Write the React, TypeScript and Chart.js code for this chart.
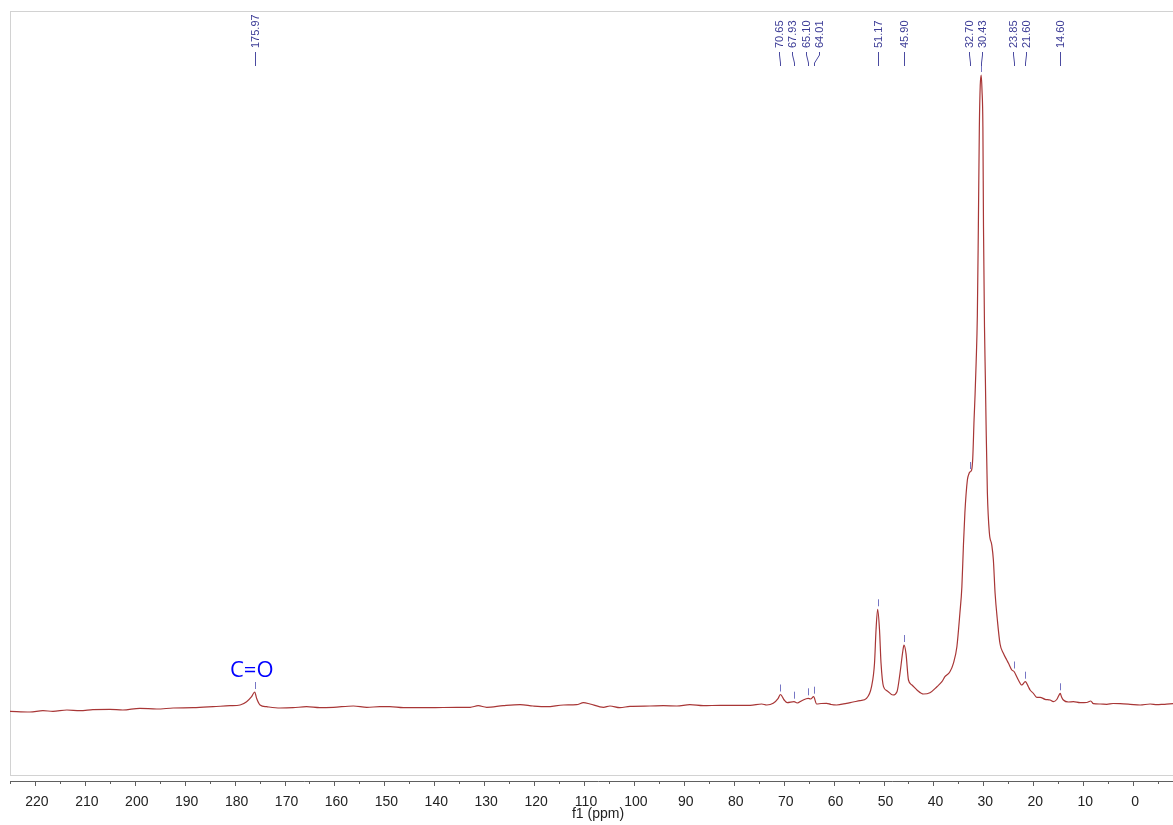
import React, { useEffect, useRef } from "react";
import { Chart, registerables } from "chart.js";

Chart.register(...registerables);

// ---- spectrum (chemical shift in ppm, intensity in arbitrary units) ----
const shiftPpm = [
  225.0, 221.0, 218.4, 216.4, 213.6, 211.0, 208.4, 205.0, 202.4, 199.0,
  195.6, 192.3, 188.3, 184.3, 180.9, 178.9, 177.6, 176.6, 175.97, 175.6,
  174.9, 173.6, 170.9, 168.3, 165.6, 162.9, 160.2, 156.2, 153.5, 150.9,
  148.9, 146.2, 140.9, 135.5, 132.8, 131.2, 129.5, 126.2, 122.8, 120.2,
  117.5, 114.1, 111.5, 110.1, 108.8, 106.1, 104.8, 102.8, 100.8, 96.8,
  94.1, 91.4, 88.8, 86.1, 82.7, 79.4, 76.7, 74.4, 73.4, 72.1,
  71.1, 70.65, 69.9, 69.3, 67.93, 67.3, 66.3, 65.10, 64.6, 64.01,
  63.4, 62.5, 61.4, 60.5, 59.4, 57.4, 56.1, 54.7, 53.4, 52.4,
  51.8, 51.5, 51.17, 50.8, 50.5, 50.0, 49.3, 48.1, 47.3, 46.7,
  46.1, 45.90, 45.5, 45.0, 44.3, 43.3, 42.0, 40.7, 39.3, 38.3,
  37.7, 36.7, 36.0, 35.3, 34.7, 34.3, 34.0, 33.7, 33.2, 32.90,
  32.70, 32.35, 32.12, 31.86, 31.66, 31.46, 31.20, 31.00, 30.80, 30.62,
  30.43, 30.27, 30.09, 29.97, 29.77, 29.59, 29.45, 29.19, 28.79, 28.31,
  27.99, 27.65, 27.19, 26.65, 25.99, 25.31, 24.99, 24.30, 23.85, 23.31,
  22.98, 22.30, 21.60, 20.98, 20.64, 19.98, 19.29, 18.63, 17.63, 16.63,
  15.97, 15.29, 14.93, 14.60, 14.33, 13.97, 12.96, 11.96, 10.62, 9.28,
  8.48, 7.95, 6.61, 5.27, 4.01, 2.60, 0.60, -1.40, -3.41, -4.81,
  -6.07, -8.0, -10.6,
];
const intensity = [
  -1.3, -2.0, -0.7, -1.3, 0, -0.7, 0.3, 0.7, 0, 1.7,
  1.0, 2.0, 2.3, 3.3, 4.3, 5.0, 8.3, 13.3, 18.0, 11.7,
  5.0, 3.3, 2.0, 2.3, 3.3, 2.3, 2.7, 4.0, 2.7, 3.3,
  3.3, 2.3, 2.3, 2.7, 2.7, 4.3, 2.7, 4.3, 5.3, 4.0,
  3.3, 5.0, 5.3, 7.3, 6.0, 2.7, 4.0, 2.3, 3.7, 4.0,
  4.3, 4.0, 5.3, 4.3, 4.7, 4.7, 4.7, 6.0, 5.0, 6.7,
  11.7, 15.5, 10.0, 7.3, 8.3, 7.0, 9.5, 11.7, 11.0, 13.3,
  6.0, 6.5, 6.7, 5.5, 5.0, 6.7, 8.0, 9.3, 11.7, 23.3,
  47, 80, 100.7, 80, 47, 23.3, 19.3, 15.0, 18.3, 36.7,
  60, 65, 56.7, 30, 25, 20, 16, 17.3, 23.3, 28.3,
  33.3, 38.3, 46.7, 63.3, 96.7, 123.3, 163.3, 197, 230, 236,
  238, 240, 252, 290, 315, 345, 395, 483, 583, 625,
  635, 620, 583, 483, 383, 330, 285, 217, 177, 165,
  150, 117, 90, 66, 56.7, 50, 47, 40, 38.5, 33.3,
  30, 25, 28.3, 23.3, 20, 16.7, 12.7, 12.7, 10.7, 10,
  8.3, 10.5, 14, 16.7, 13, 10, 8, 8.3, 7.3, 7.5,
  9, 6.3, 6, 5.7, 6.5, 6.3, 5.7, 5, 6, 5.3,
  5.7, 6.3, 6.0,
];

// ---- picked peaks ----
const peakPpm = [175.97, 70.65, 67.93, 65.10, 64.01, 51.17, 45.90, 32.70, 30.43, 23.85, 21.60, 14.60];
const peakLabels = ["175.97", "70.65", "67.93", "65.10", "64.01", "51.17", "45.90", "32.70", "30.43", "23.85", "21.60", "14.60"];

// ---- annotation ----
const annotationText = "C=O";
const annotationPpm = 175.97;

// ---- axis ----
const majorTicks = [220, 210, 200, 190, 180, 170, 160, 150, 140, 130, 120, 110, 100, 90, 80, 70, 60, 50, 40, 30, 20, 10, 0];
const tickLabels = ["220", "210", "200", "190", "180", "170", "160", "150", "140", "130", "120", "110", "100", "90", "80", "70", "60", "50", "40", "30", "20", "10", "0"];
const minorTicks = [225, 215, 205, 195, 185, 175, 165, 155, 145, 135, 125, 115, 105, 95, 85, 75, 65, 55, 45, 35, 25, 15, 5, -5, -10];
const axisTitle = "f1 (ppm)";
const xMin = -10.6;
const xMax = 225;

function spreadPositions(xs: number[], gap: number): number[] {
  let groups = xs.map((x) => ({ start: x, n: 1, sum: x }));
  let changed = true;
  while (changed) {
    changed = false;
    for (let i = 0; i < groups.length - 1; i++) {
      const a = groups[i];
      const b = groups[i + 1];
      const aEnd = a.start + (a.n - 1) * gap;
      if (b.start - aEnd < gap) {
        const n = a.n + b.n;
        const sum = a.sum + b.sum;
        const center = sum / n;
        groups.splice(i, 2, { start: center - ((n - 1) * gap) / 2, n, sum });
        changed = true;
        break;
      }
    }
  }
  const out: number[] = [];
  groups.forEach((g) => {
    for (let k = 0; k < g.n; k++) out.push(g.start + k * gap);
  });
  return out;
}

const nmrPlugin = {
  id: "nmrDecor",
  beforeDatasetsDraw(chart: any) {
    const { ctx, chartArea } = chart;
    ctx.save();
    ctx.strokeStyle = "#d2d2d2";
    ctx.lineWidth = 1;
    ctx.strokeRect(
      chartArea.left + 0.5,
      chartArea.top + 0.5,
      chartArea.right - chartArea.left + 20,
      chartArea.bottom - 6 - chartArea.top
    );
    ctx.restore();
  },
  afterDraw(chart: any) {
    const { ctx, chartArea } = chart;
    const xs = chart.scales.x;
    const ys = chart.scales.y;
    ctx.save();
    // axis tick marks
    ctx.strokeStyle = "#606060";
    ctx.lineWidth = 1;
    const axisY = chartArea.bottom;
    majorTicks.forEach((v) => {
      const px = Math.round(xs.getPixelForValue(v)) + 0.5;
      ctx.beginPath();
      ctx.moveTo(px, axisY);
      ctx.lineTo(px, axisY + 5);
      ctx.stroke();
    });
    minorTicks.forEach((v) => {
      const px = Math.round(xs.getPixelForValue(v)) + 0.5;
      ctx.beginPath();
      ctx.moveTo(px, axisY);
      ctx.lineTo(px, axisY + 3);
      ctx.stroke();
    });

    // peak markers, connectors and labels
    const peakX = peakPpm.map((p) => xs.getPixelForValue(p));
    const labelX = spreadPositions(peakX, 13.3);
    peakPpm.forEach((p, i) => {
      const idx = shiftPpm.indexOf(p);
      const val = idx >= 0 ? intensity[idx] : 0;
      const topY = ys.getPixelForValue(val);
      const px = Math.round(peakX[i]) + 0.5;
      // marker above peak
      ctx.strokeStyle = "#7676c4";
      ctx.lineWidth = 1;
      ctx.beginPath();
      ctx.moveTo(px, topY - 3);
      ctx.lineTo(px, topY - 10);
      ctx.stroke();
      // connector
      const lx = Math.round(labelX[i]) + 0.5;
      ctx.strokeStyle = "#4a4aa0";
      ctx.beginPath();
      ctx.moveTo(lx, chartArea.top + 41);
      ctx.lineTo(lx, chartArea.top + 44);
      ctx.lineTo(px, chartArea.top + 52);
      ctx.lineTo(px, chartArea.top + 55);
      ctx.stroke();
      // label
      ctx.save();
      ctx.translate(lx, chartArea.top + 37);
      ctx.rotate(-Math.PI / 2);
      ctx.fillStyle = "#3c3c96";
      ctx.font = '11px "Liberation Sans"';
      ctx.textAlign = "left";
      ctx.textBaseline = "middle";
      ctx.fillText(peakLabels[i], 0, 0.5);
      ctx.restore();
    });

    // C=O annotation
    const aIdx = shiftPpm.indexOf(annotationPpm);
    const aTop = ys.getPixelForValue(aIdx >= 0 ? intensity[aIdx] : 0);
    ctx.fillStyle = "#0000ff";
    ctx.font = '22px "Open Sans"';
    ctx.textAlign = "center";
    ctx.textBaseline = "alphabetic";
    ctx.fillText(annotationText, xs.getPixelForValue(annotationPpm) - 3, aTop - 15);
    ctx.restore();
  },
};

export default function App() {
  const canvasRef = useRef<HTMLCanvasElement | null>(null);

  useEffect(() => {
    if (!canvasRef.current) return;
    const data = shiftPpm.map((x, i) => ({ x, y: intensity[i] }));
    const allTicks = [...minorTicks, ...majorTicks].sort((a, b) => a - b);
    const chart = new Chart(canvasRef.current, {
      type: "line",
      data: {
        datasets: [
          {
            data,
            borderColor: "#a83636",
            borderWidth: 1.2,
            pointRadius: 0,
            fill: false,
            cubicInterpolationMode: "monotone",
          },
        ],
      },
      options: {
        responsive: false,
        animation: false,
        devicePixelRatio: 1,
        layout: { padding: { top: 11, left: 10, right: 0, bottom: 0 } },
        plugins: { legend: { display: false }, tooltip: { enabled: false } },
        scales: {
          x: {
            type: "linear",
            reverse: true,
            min: xMin,
            max: xMax,
            afterBuildTicks: (s: any) => {
              s.ticks = allTicks.map((v) => ({ value: v }));
            },
            afterFit: (s: any) => {
              s.height = 44;
            },
            grid: { display: false, drawTicks: true, tickLength: 13 },
            border: { display: true, color: "#606060", width: 1 },
            ticks: {
              autoSkip: false,
              maxRotation: 0,
              minRotation: 0,
              padding: 0,
              labelOffset: 2,
              color: "#222222",
              font: { family: "Liberation Sans", size: 14 },
              callback: (v: any) => {
                const k = majorTicks.indexOf(Number(v));
                return k >= 0 ? tickLabels[k] : "";
              },
            },
            title: {
              display: true,
              text: axisTitle,
              color: "#222222",
              font: { family: "Liberation Sans", size: 14 },
              padding: { top: 0, bottom: 2 },
            },
          },
          y: { display: false, min: -71, max: 699 },
        },
      },
      plugins: [nmrPlugin],
    } as any);
    return () => chart.destroy();
  }, []);

  return (
    <div style={{ position: "absolute", left: 0, top: 0, width: 1173, height: 825, background: "#fff", overflow: "hidden" }}>
      <canvas ref={canvasRef} width={1186} height={825} style={{ display: "block" }} />
    </div>
  );
}
